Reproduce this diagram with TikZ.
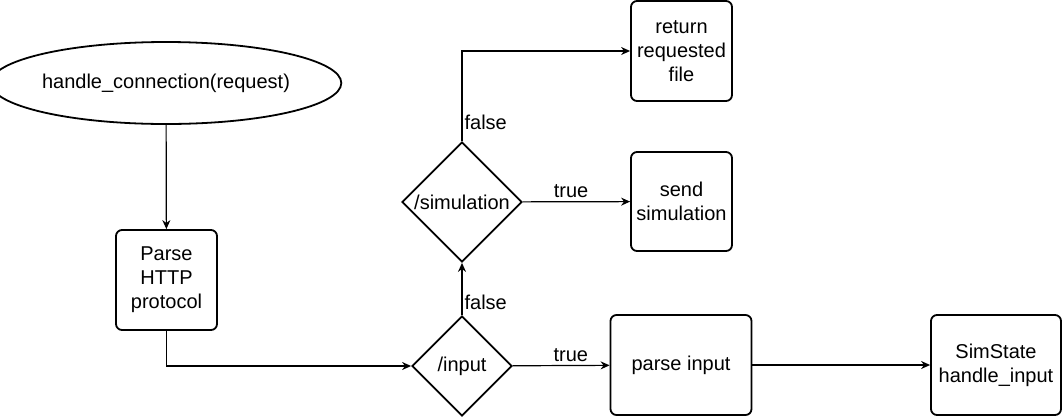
\documentclass[tikz,border=0pt]{standalone}
\usepackage{fontspec}
\setmainfont{Liberation Sans}
\usetikzlibrary{shapes.geometric,arrows.meta}

\begin{document}
\begin{tikzpicture}[x=1pt,y=-1pt,
    box/.style={draw,line width=1.8pt,rounded corners=6pt,align=center,inner sep=0pt},
    frage/.style={draw,diamond,aspect=1,line width=1.8pt,inner sep=0pt},
    pfeil/.style={line width=1.2pt,-{Stealth[length=9pt,width=8pt]}},
    font=\fontsize{20}{24}\selectfont]
  \useasboundingbox (0,0) rectangle (1062,416);

  % Knoten
  \node[draw,ellipse,line width=1.8pt,minimum width=330pt,minimum height=82pt,inner sep=0pt] (start) at (166,83) {handle\_connection(request)};
  \node[box,minimum width=101pt,minimum height=100pt] (parse) at (166.5,280) {Parse\\HTTP\\protocol};
  \node[frage,minimum size=100pt] (input) at (462,366) {/input};
  \node[frage,minimum size=120pt] (sim) at (462,202) {/simulation};
  \node[box,minimum width=141pt,minimum height=100pt] (pinput) at (681,365) {parse input};
  \node[box,minimum width=130pt,minimum height=100pt] (state) at (996,365) {SimState\\handle\_input};
  \node[box,minimum width=101pt,minimum height=99pt] (send) at (681.5,201.5) {send\\simulation};
  \node[box,minimum width=101pt,minimum height=100pt] (ret) at (681.5,51) {return\\requested\\file};

  % Verbindungen
  \draw[pfeil] (start) -- (parse);
  \draw[pfeil] (parse) |- (input);
  \draw[pfeil] (input) -- node[pos=0.6,above,inner sep=3pt] {true} (pinput);
  \draw[pfeil] (pinput) -- (state);
  \draw[pfeil] (input) -- node[pos=0.24,right,inner sep=2pt] {false} (sim);
  \draw[pfeil] (sim) -- node[pos=0.45,above,inner sep=3pt] {true} (send);
  \draw[pfeil] (sim) |- node[pos=0.105,right,inner sep=2pt] {false} (ret);
\end{tikzpicture}
\end{document}
